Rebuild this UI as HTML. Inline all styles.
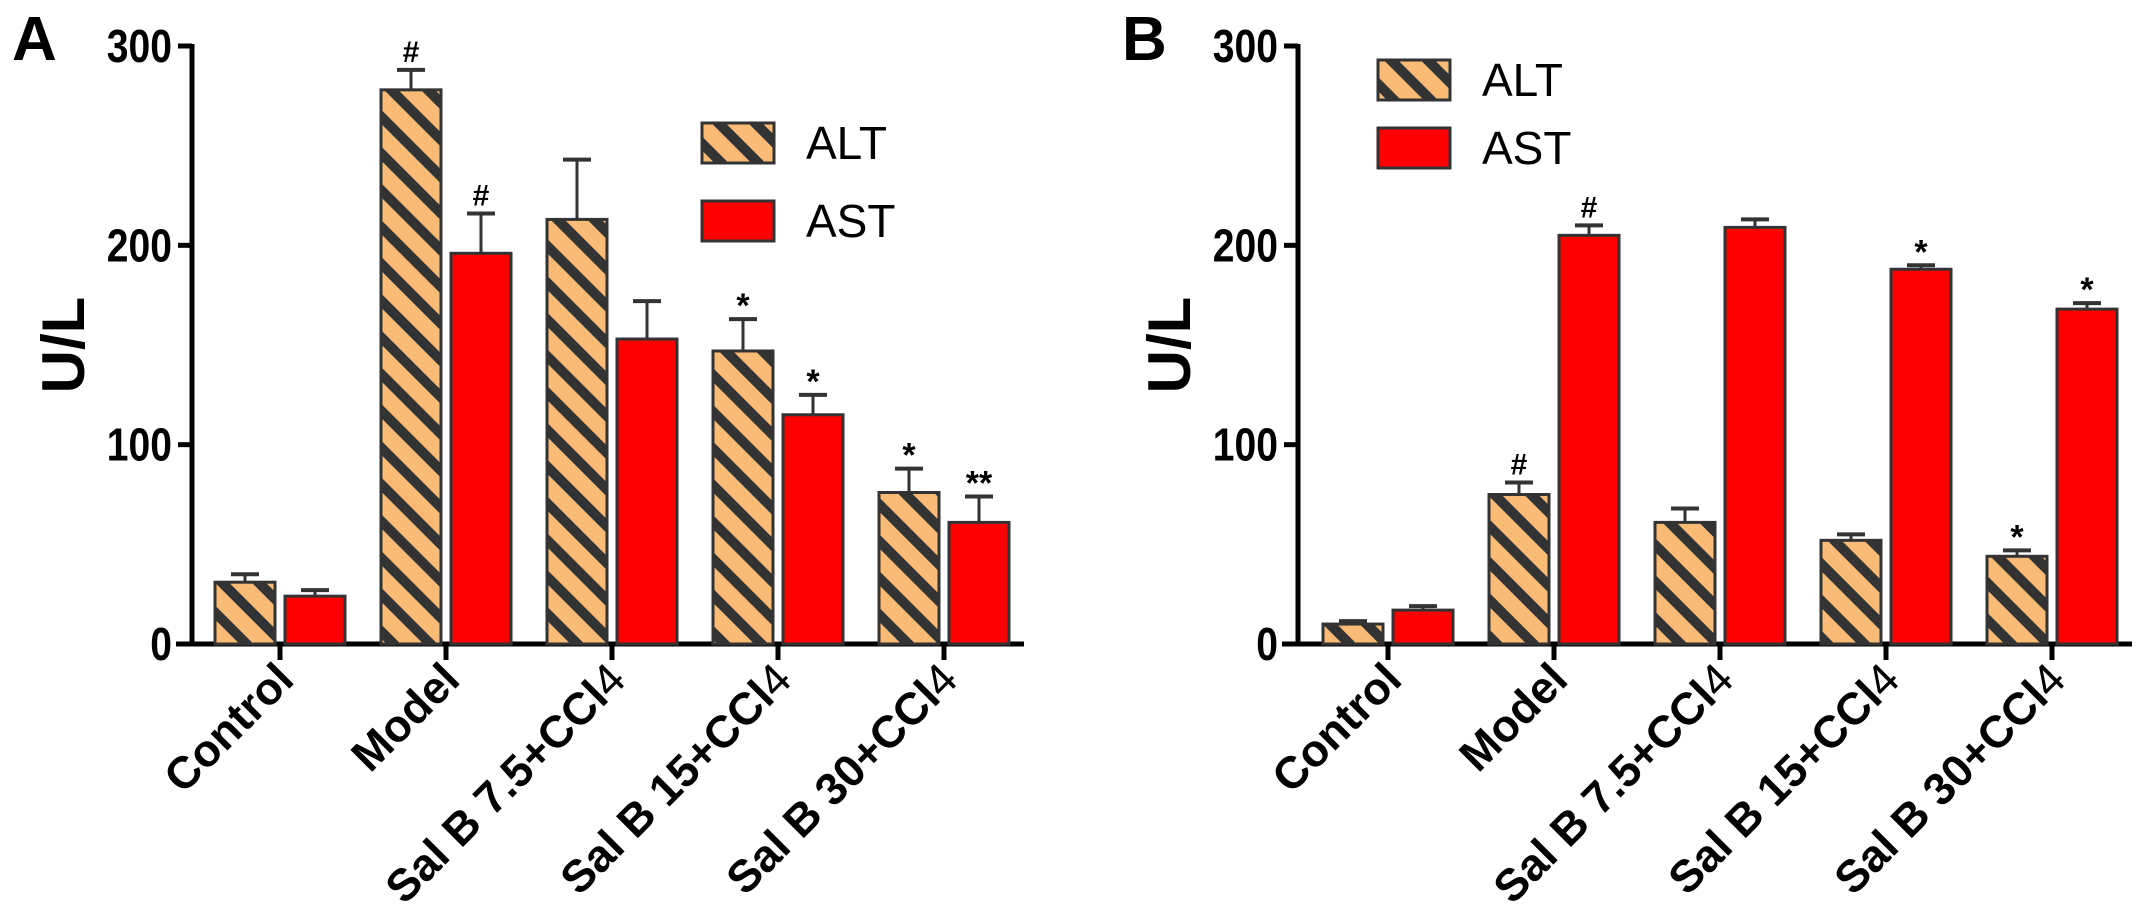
<!DOCTYPE html>
<html><head><meta charset="utf-8"><style>
html,body{margin:0;padding:0;background:#fff;}
svg{display:block;font-family:"Liberation Sans",Arial,sans-serif;}
</style></head><body>
<svg id="fig" width="2150" height="914" viewBox="0 0 2150 914">
<defs>
<pattern id="hatch" patternUnits="userSpaceOnUse" width="26" height="26" patternTransform="rotate(-45)">
<rect width="26" height="26" fill="#f9bb76"/>
<rect x="0" y="0" width="10" height="26" fill="#333"/>
</pattern>
</defs>
</svg>
<script>
const categories = ["Control","Model","Sal B 7.5+CCl","Sal B 15+CCl","Sal B 30+CCl"];
const subscripts = ["","","4","4","4"];
const altA = [31,278,213,147,76];
const altErrA = [4,10,30,16,12];
const astA = [24,196,153,115,61];
const astErrA = [3,20,19,10,13];
const altMarkA = ["","#","","*","*"];
const astMarkA = ["","#","","*","**"];
const altB = [10,75,61,52,44];
const altErrB = [1.5,6,7,3,3];
const astB = [17,205,209,188,168];
const astErrB = [2,5,4,2,3];
const altMarkB = ["","#","","","*"];
const astMarkB = ["","#","","*","*"];
const yTicks = [0,100,200,300];

const NS = "http://www.w3.org/2000/svg";
const svg = document.getElementById('fig');
function mk(tag, attrs, parent){
  const e = document.createElementNS(NS, tag);
  for (const k in attrs) e.setAttribute(k, attrs[k]);
  (parent||svg).appendChild(e);
  return e;
}
const Y0 = 644, YTOP = 46, YMAX = 300;
function yScale(v){ return Y0 - v/YMAX*(Y0-YTOP); }

function panel(opt){
  const g = mk('g', {});
  
  
  const ax = opt.axisX;
  function xScale(i){ return opt.firstC + i*166; }
  const L = mk('text', {x: opt.letterX, y: 60, 'font-size': 62, 'font-weight': 'bold', fill: '#000'}, g);
  L.textContent = opt.letter;
  
  
  const ya = mk('line', {x1: ax, y1: YTOP-2, x2: ax, y2: Y0+2, stroke: '#000', 'stroke-width': 5}, g);
  
  
  yTicks.forEach(t => {
    const y = yScale(t);
    const tk = mk('line', {x1: ax-14, y1: y, x2: ax, y2: y, stroke: '#000', 'stroke-width': 5}, g);
    
    
    const tl = mk('text', {x: 0, y: 0, 'font-size': 46, 'font-weight': 'bold', 'text-anchor': 'end', transform: `translate(${ax-20},${y+16}) scale(0.85,1)`}, g);
    tl.textContent = t;
    
    
  });
  const yt = mk('text', {x: 0, y: 0, 'font-size': 60, 'font-weight': 'bold', 'text-anchor': 'middle', transform: `translate(${ax-108},${345}) rotate(-90)`}, g);
  yt.textContent = 'U/L';
  
  
  const xa = mk('line', {x1: ax-16, y1: Y0, x2: xScale(4)+80, y2: Y0, stroke: '#000', 'stroke-width': 5}, g);
  
  
  categories.forEach((c, i) => {
    const cx = xScale(i);
    const tk = mk('line', {x1: cx, y1: Y0, x2: cx, y2: Y0+16, stroke: '#000', 'stroke-width': 5}, g);
    
    
    const tl = mk('text', {x: 0, y: 0, 'font-size': 45, 'font-weight': 'bold', 'text-anchor': 'end', transform: `translate(${cx+16},${Y0+38}) rotate(-45)`}, g);
    tl.textContent = c;
    if (subscripts[i]) {
      const s = mk('tspan', {'font-weight': 'normal', 'font-size': 45}, tl);
      s.textContent = subscripts[i];
    }
    
    
  });
  function bars(vals, errs, marks, x0, fill, nm){
    vals.forEach((v, i) => {
      const cx = xScale(i);
      const x = cx + x0, w = 60;
      const y = yScale(v);
      const top = yScale(v + errs[i]);
      const el = mk('line', {x1: x+w/2, y1: y, x2: x+w/2, y2: top, stroke: '#333', 'stroke-width': 3}, g);
      
      
      const cap = mk('line', {x1: x+w/2-14, y1: top, x2: x+w/2+14, y2: top, stroke: '#333', 'stroke-width': 4}, g);
      
      
      const r = mk('rect', {x: x, y: y, width: w, height: Y0 - y, fill: fill, stroke: '#333', 'stroke-width': 3}, g);
      
      
      if (marks[i]) {
        const isHash = marks[i] === '#';
        const m = mk('text', {x: x+w/2, y: top - (isHash ? 8 : 2), 'font-size': isHash ? 30 : 34, 'font-weight': 'bold', 'text-anchor': 'middle'}, g);
        m.textContent = marks[i];
        
        
      }
    });
  }
  bars(opt.alt, opt.altErr, opt.altMark, -65, 'url(#hatch)', 'alt');
  bars(opt.ast, opt.astErr, opt.astMark, 5, '#ff0000', 'ast');
  const lg = mk('g', {}, g);
  
  
  [['ALT','url(#hatch)',opt.legY1],['AST','#ff0000',opt.legY2]].forEach(([t,f,ly]) => {
    const sw = mk('rect', {x: opt.legX, y: ly, width: 72, height: 40, fill: f, stroke: '#333', 'stroke-width': 3}, lg);
    
    
    const tx = mk('text', {x: opt.legX+104, y: ly+36, 'font-size': 46}, lg);
    tx.textContent = t;
    
    
  });
}
panel({name:'panel-a', letter:'A', letterX: 12, axisX: 192, firstC: 280,
  alt: altA, altErr: altErrA, altMark: altMarkA, ast: astA, astErr: astErrA, astMark: astMarkA,
  legX: 702, legY1: 123, legY2: 201});
panel({name:'panel-b', letter:'B', letterX: 1122, axisX: 1298, firstC: 1388,
  alt: altB, altErr: altErrB, altMark: altMarkB, ast: astB, astErr: astErrB, astMark: astMarkB,
  legX: 1378, legY1: 60, legY2: 128});
</script>
</body></html>
